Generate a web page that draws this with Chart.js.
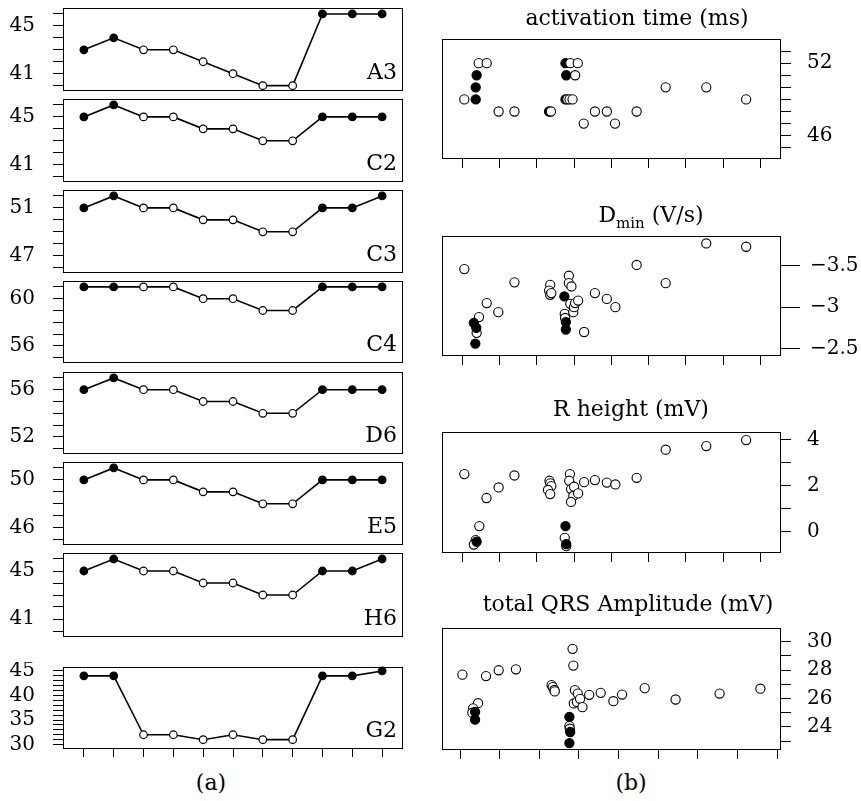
<!DOCTYPE html>
<html>
<head>
<meta charset="utf-8">
<script src="https://cdn.jsdelivr.net/npm/chart.js@4.4.1/dist/chart.umd.min.js"></script>
<style>
  body { margin: 0; background: #fff; }
  #fig { position: relative; width: 861px; height: 801px; font-family: "DejaVu Serif", serif; color: #000; overflow: hidden; }
  #fig canvas { position: absolute; }
  .txt { position: absolute; line-height: 1; white-space: nowrap; }
  .sub { font-size: 15px; position: relative; top: 6px; }
</style>
</head>
<body>
<div id="fig"></div>
<script>
// ---- data: left column, one value per step ----
const steps = [1, 2, 3, 4, 5, 6, 7, 8, 9, 10, 11];
const paced = [1, 1, 0, 0, 0, 0, 0, 0, 1, 1, 1];

const leadA3 = [43, 44, 43, 43, 42, 41, 40, 40, 46, 46, 46];
const leadC2 = [45, 46, 45, 45, 44, 44, 43, 43, 45, 45, 45];
const leadC3 = [51, 52, 51, 51, 50, 50, 49, 49, 51, 51, 52];
const leadC4 = [61, 61, 61, 61, 60, 60, 59, 59, 61, 61, 61];
const leadD6 = [56, 57, 56, 56, 55, 55, 54, 54, 56, 56, 56];
const leadE5 = [50, 51, 50, 50, 49, 49, 48, 48, 50, 50, 50];
const leadH6 = [45, 46, 45, 45, 44, 44, 43, 43, 45, 45, 46];
const leadG2 = [44, 44, 32, 32, 31, 32, 31, 31, 44, 44, 45];

// ---- data: right column, [x, y] points ----
const actFilled = [[0.36, 49], [0.36, 50], [0.385, 51], [2.33, 48], [2.77, 52], [2.79, 51], [2.77, 49]];
const actOpen = [[0.054, 49], [0.44, 52], [0.655, 52], [0.975, 48], [1.40, 48], [2.38, 48], [2.90, 52], [3.10, 52],
  [3.03, 51], [2.82, 49], [2.88, 49], [2.96, 49], [3.26, 47], [3.56, 48], [3.88, 48], [4.10, 47], [4.68, 48],
  [5.46, 50], [6.55, 50], [7.62, 49]];

const dminFilled = [[0.31, -2.81], [0.376, -2.75], [0.35, -2.56], [2.74, -3.13], [2.78, -2.82], [2.78, -2.73]];
const dminOpen = [[0.054, -3.46], [0.385, -2.69], [0.448, -2.88], [0.655, -3.05], [0.967, -2.94], [1.40, -3.30],
  [2.36, -3.27], [2.33, -3.20], [2.36, -3.15], [2.39, -3.17], [2.75, -2.92], [2.76, -2.87], [2.86, -3.38],
  [2.86, -3.29], [2.93, -3.25], [2.90, -3.04], [2.98, -2.94], [3.0, -3.0], [3.03, -3.05], [3.11, -3.08],
  [3.27, -2.70], [3.56, -3.17], [3.88, -3.10], [4.11, -3.0], [4.68, -3.51], [5.46, -3.29], [6.55, -3.77], [7.62, -3.73]];

const rFilled = [[0.385, -0.45], [2.77, 0.23], [2.79, -0.55]];
const rOpen = [[0.36, -0.38], [0.31, -0.57], [2.75, -0.28], [2.79, -0.64], [0.054, 2.49], [1.40, 2.43], [0.975, 1.91],
  [0.65, 1.45], [0.456, 0.23], [2.34, 2.2], [2.36, 2.09], [2.39, 1.97], [2.30, 1.80], [2.36, 1.62], [2.89, 2.49],
  [2.87, 2.2], [2.92, 1.84], [3.0, 1.94], [2.98, 1.54], [3.11, 1.65], [2.92, 1.28], [3.27, 2.14], [3.56, 2.23],
  [3.88, 2.12], [4.11, 2.04], [4.68, 2.33], [5.46, 3.55], [6.55, 3.71], [7.62, 3.97]];

const qrsFilled = [[0.38, 25.05], [0.38, 24.51], [2.76, 24.70], [2.78, 23.64], [2.76, 22.86]];
const qrsOpen = [[0.06, 27.68], [0.655, 27.58], [0.975, 27.99], [1.41, 28.06], [0.454, 25.67], [0.33, 25.31],
  [0.31, 25.0], [2.31, 26.95], [2.34, 26.8], [2.38, 26.6], [2.39, 26.5], [2.84, 29.5], [2.86, 28.32], [2.76, 24.06],
  [2.77, 23.87], [2.90, 26.59], [2.97, 26.35], [2.87, 25.65], [2.95, 25.76], [3.03, 25.98], [3.09, 25.39],
  [3.26, 26.26], [3.55, 26.40], [3.87, 25.81], [4.09, 26.28], [4.66, 26.73], [5.44, 25.93], [6.55, 26.35], [7.58, 26.69]];

const scatterTicksX = [0, 1, 2, 3, 4, 5, 6, 7, 8];

const leftPanels = [
  { name: "A3", values: leadA3, range: [39.55, 46.5], labels: [45, 41] },
  { name: "C2", values: leadC2, range: [39.55, 46.5], labels: [45, 41] },
  { name: "C3", values: leadC3, range: [45.55, 52.5], labels: [51, 47] },
  { name: "C4", values: leadC4, range: [54.55, 61.5], labels: [60, 56] },
  { name: "D6", values: leadD6, range: [50.55, 57.5], labels: [56, 52] },
  { name: "E5", values: leadE5, range: [44.55, 51.5], labels: [50, 46] },
  { name: "H6", values: leadH6, range: [39.5, 46.5], labels: [45, 41] },
  { name: "G2", values: leadG2, range: [29.1, 45.8], labels: [45, 40, 35, 30] }
];

const rightPanels = [
  { title: "activation time (ms)", filled: actFilled, open: actOpen, openOnTop: true,
    xRange: [-0.545, 8.556], yRange: [44.07, 54.0], yTicks: [45, 46, 47, 48, 49, 50, 51, 52, 53], labels: [52, 46] },
  { title: "D<span class='sub'>min</span> (V/s)", filled: dminFilled, open: dminOpen, openOnTop: false, reverse: true,
    xRange: [-0.545, 8.556], yRange: [-3.86, -2.41], yTicks: [-3.5, -3, -2.5], labels: [-3.5, -3, -2.5] },
  { title: "R height (mV)", filled: rFilled, open: rOpen, openOnTop: false,
    xRange: [-0.545, 8.556], yRange: [-0.94, 4.32], yTicks: [0, 1, 2, 3, 4], labels: [4, 2, 0] },
  { title: "total QRS Amplitude (mV)", filled: qrsFilled, open: qrsOpen, openOnTop: false,
    xRange: [-0.455, 8.1], yRange: [22.37, 30.97], yTicks: [23, 24, 25, 26, 27, 28, 29, 30], labels: [30, 28, 26, 24] }
];

// ---- layout ----
const leftBoxes = [[8, 91], [99, 182], [190, 273], [281, 363], [372, 454], [462, 545], [553, 637], [667, 749]];
const rightBoxes = [[39, 159], [236, 356], [432, 553], [628, 750]];
const titleSpots = [[637, 26], [651, 223], [631, 417], [628, 612]];

Chart.defaults.font.family = "'DejaVu Serif', serif";
Chart.defaults.color = "#000";

const fig = document.getElementById("fig");

const frame = {
  id: "frame",
  beforeDatasetsDraw(chart) {
    const a = chart.chartArea, c = chart.ctx;
    c.save();
    c.strokeStyle = "#000";
    c.lineWidth = 1;
    c.strokeRect(Math.round(a.left) + 0.5, Math.round(a.top) + 0.5,
      Math.round(a.right - a.left) - 1, Math.round(a.bottom - a.top) - 1);
    c.restore();
  }
};

function addCanvas(x, y, w, h) {
  const c = document.createElement("canvas");
  c.width = w;
  c.height = h;
  c.style.left = x + "px";
  c.style.top = y + "px";
  c.style.width = w + "px";
  c.style.height = h + "px";
  fig.appendChild(c);
  return c;
}

function addText(html, x, baseline, size, align) {
  const d = document.createElement("div");
  d.className = "txt";
  d.innerHTML = html;
  d.style.fontSize = size + "px";
  d.style.left = x + "px";
  d.style.top = (baseline - size * 0.846) + "px";
  if (align === "center") d.style.transform = "translateX(-50%)";
  if (align === "right") d.style.transform = "translateX(-100%)";
  fig.appendChild(d);
}

function intTicks(lo, hi) {
  const out = [];
  for (let v = Math.ceil(lo); v <= Math.floor(hi); v++) out.push({ value: v });
  return out;
}

// axis sizes are fixed so the plot box lands where the reference has it
function fixSize(prop, size) {
  return s => {
    s[prop] = size;
    s.paddingTop = 0;
    s.paddingBottom = 0;
    s.paddingLeft = 0;
    s.paddingRight = 0;
  };
}

function drawLeft(p, box, showX) {
  const padT = 5, padB = 3, axisH = showX ? 10 : 0;
  const width = 410;
  const height = box[1] - box[0] + padT + padB + axisH;
  const canvas = addCanvas(0, box[0] - padT, width, height);

  new Chart(canvas, {
    type: "line",
    data: {
      datasets: [{
        data: p.values.map((v, i) => ({ x: steps[i], y: v })),
        borderColor: "#000",
        borderWidth: 1.6,
        tension: 0,
        pointRadius: 3.8,
        pointBorderWidth: 1.2,
        pointBorderColor: "#000",
        pointBackgroundColor: paced.map(f => f ? "#000" : "#fff"),
        clip: false
      }]
    },
    options: {
      responsive: false,
      animation: false,
      events: [],
      layout: { autoPadding: false, padding: { top: padT, bottom: padB, left: 0, right: width - 403 } },
      plugins: { legend: { display: false }, tooltip: { enabled: false } },
      scales: {
        x: {
          type: "linear",
          display: showX,
          min: 0.3,
          max: 11.7,
          afterBuildTicks: s => { s.ticks = steps.map(v => ({ value: v })); },
          afterFit: fixSize("height", axisH),
          ticks: { callback: () => "", autoSkip: false, maxRotation: 0 },
          grid: { drawOnChartArea: false, tickLength: 8, color: "#000" },
          border: { display: false }
        },
        y: {
          min: p.range[0],
          max: p.range[1],
          afterBuildTicks: s => { s.ticks = intTicks(p.range[0], p.range[1]); },
          afterFit: fixSize("width", 63),
          ticks: {
            callback: v => p.labels.includes(v) ? String(v) : "",
            autoSkip: false,
            padding: 18,
            font: { size: 20 }
          },
          grid: { drawOnChartArea: false, tickLength: 10, color: "#000" },
          border: { display: false }
        }
      }
    },
    plugins: [frame]
  });

  addText(p.name, 397, box[1] - 11.5, 22, "right");
}

function drawRight(p, box) {
  const padT = 8, padB = 2, axisH = 10, left = 430;
  const width = 861 - left;
  const height = box[1] - box[0] + padT + padB + axisH;
  const canvas = addCanvas(left, box[0] - padT, width, height);
  const longTick = p.reverse ? 19 : 10;

  const pts = (list, fill) => ({
    data: list.map(([x, y]) => ({ x, y })),
    showLine: false,
    pointRadius: 4.6,
    pointBorderWidth: 1.1,
    pointBorderColor: "#000",
    pointBackgroundColor: fill,
    clip: false
  });
  const datasets = p.openOnTop
    ? [pts(p.open, "#fff"), pts(p.filled, "#000")]
    : [pts(p.filled, "#000"), pts(p.open, "#fff")];

  new Chart(canvas, {
    type: "scatter",
    data: { datasets },
    options: {
      responsive: false,
      animation: false,
      events: [],
      layout: { autoPadding: false, padding: { top: padT, bottom: padB, left: 442 - left, right: 0 } },
      plugins: { legend: { display: false }, tooltip: { enabled: false } },
      scales: {
        x: {
          type: "linear",
          min: p.xRange[0],
          max: p.xRange[1],
          afterBuildTicks: s => { s.ticks = scatterTicksX.map(v => ({ value: v })); },
          afterFit: fixSize("height", axisH),
          ticks: { callback: () => "", autoSkip: false, maxRotation: 0 },
          grid: { drawOnChartArea: false, tickLength: 9, color: "#000" },
          border: { display: false }
        },
        y: {
          position: "right",
          reverse: !!p.reverse,
          min: p.yRange[0],
          max: p.yRange[1],
          afterBuildTicks: s => { s.ticks = p.yTicks.map(v => ({ value: v })); },
          afterFit: fixSize("width", 861 - 781),
          ticks: {
            callback: v => p.labels.includes(v) ? (v < 0 ? "\u2212" + Math.abs(v) : String(v)) : "",
            autoSkip: false,
            padding: p.reverse ? 10 : 16,
            font: { size: 20 }
          },
          grid: { drawOnChartArea: false, tickLength: longTick, color: "#000" },
          border: { display: false }
        }
      }
    },
    plugins: [frame]
  });
}

leftPanels.forEach((p, i) => drawLeft(p, leftBoxes[i], i === leftPanels.length - 1));
rightPanels.forEach((p, i) => {
  drawRight(p, rightBoxes[i]);
  addText(p.title, titleSpots[i][0], titleSpots[i][1], 22, "center");
});

addText("(a)", 211, 791, 22, "center");
addText("(b)", 631, 791, 22, "center");
</script>
</body>
</html>
